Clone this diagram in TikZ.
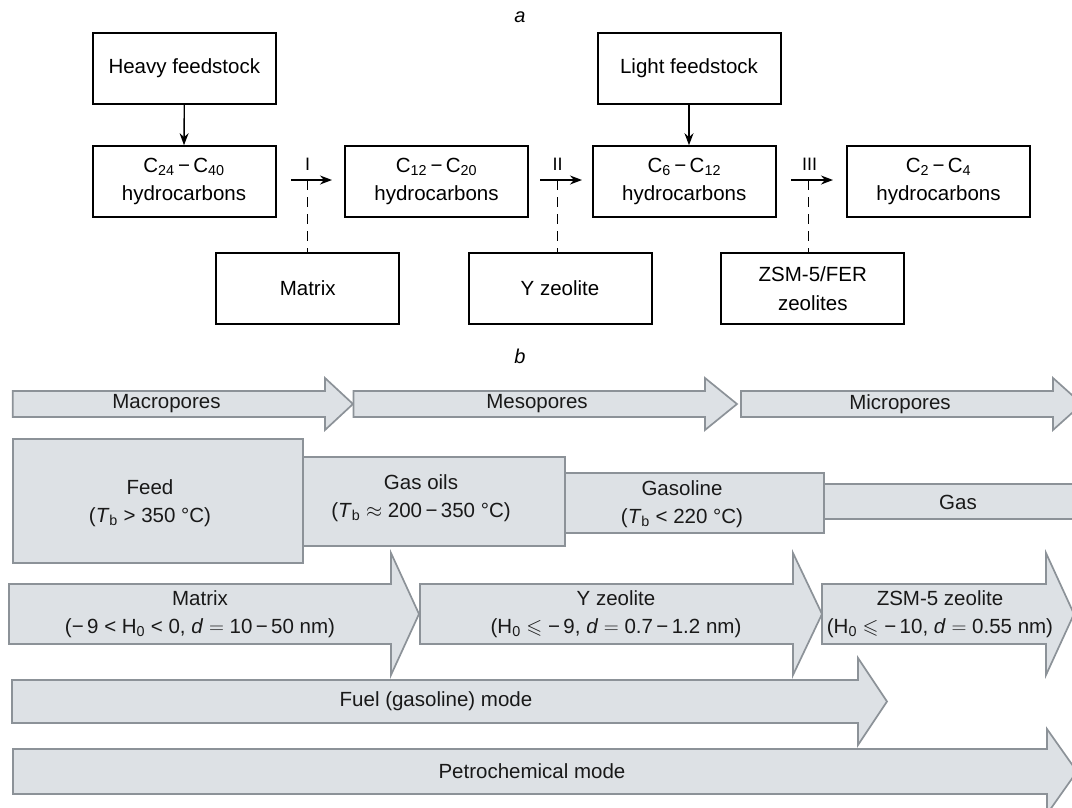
\documentclass[tikz,border=0pt]{standalone}
\usepackage{amssymb}
\usepackage{fontspec}
\setmainfont{Liberation Sans}
\usetikzlibrary{arrows.meta}
\definecolor{bfill}{RGB}{221,225,229}
\definecolor{bdraw}{RGB}{140,146,152}
\definecolor{btext}{RGB}{25,25,25}
\newcommand{\blockarr}[6]{% x0 x1 xt yc bh hh
  \draw[barrow] (#1,#4-#5) -- (#2,#4-#5) -- (#2,#4-#6) -- (#3,#4) -- (#2,#4+#6) -- (#2,#4+#5) -- (#1,#4+#5) -- cycle;}
\begin{document}
\begin{tikzpicture}[x=1pt,y=-1pt,
  font=\fontsize{20.5}{28.5}\selectfont,
  box/.style={draw, line width=2pt, minimum width=183pt, minimum height=71pt, inner sep=0pt, align=center},
  flow/.style={line width=1.4pt, -{Stealth[length=12pt,width=9pt]}},
  dsh/.style={line width=1.4pt, dash pattern=on 10pt off 7pt},
  roman/.style={font=\fontsize{18}{20}\selectfont, inner sep=0pt},
  lbl/.style={font=\fontsize{20}{22}\selectfont\itshape, inner sep=0pt},
  barrow/.style={draw=bdraw, fill=bfill, line width=1.7pt, line join=miter},
  bbox/.style={draw=bdraw, fill=bfill, line width=1.7pt},
  btxt/.style={align=center, text=btext, inner sep=0pt}]
\useasboundingbox (0,0) rectangle (1072,807);
\clip (0,0) rectangle (1072,807);

% ---------- part a ----------
\node[lbl] (la) at (520,17) {a};
\node[box] (hf)  at (184.3,68)   {Heavy feedstock};
\node[box] (lf)  at (689,68)     {Light feedstock};
\node[box] (c24) at (184,181.7)  {C\textsubscript{24}\,−\,C\textsubscript{40}\\hydrocarbons};
\node[box] (c12) at (436.5,181.7){C\textsubscript{12}\,−\,C\textsubscript{20}\\hydrocarbons};
\node[box] (c6)  at (684.3,181.7){C\textsubscript{6}\,−\,C\textsubscript{12}\\hydrocarbons};
\node[box] (c2)  at (938.5,181.7){C\textsubscript{2}\,−\,C\textsubscript{4}\\hydrocarbons};
\node[box] (mat) at (307.7,288.5){Matrix};
\node[box] (yz)  at (560,288.5)  {Y zeolite};
\node[box] (zsm) at (812.8,288.5){ZSM-5/FER\\zeolites};

\draw[flow] (hf.south) -- (c24.north);
\draw[flow] (lf.south) -- (lf.south |- c6.north);

\coordinate (a1s) at (291,180);  \coordinate (a1e) at (332,180);
\coordinate (a2s) at (540,180);  \coordinate (a2e) at (582,180);
\coordinate (a3s) at (791,180);  \coordinate (a3e) at (833,180);
\coordinate (d1) at (307.6,180); \coordinate (d2) at (557.7,180); \coordinate (d3) at (808.6,180);

\draw[dsh] (d1) -- (d1 |- mat.north);
\draw[dsh] (d2) -- (d2 |- yz.north);
\draw[dsh] (d3) -- (d3 |- zsm.north);
\draw[flow] (a1s) -- (a1e);
\draw[flow] (a2s) -- (a2e);
\draw[flow] (a3s) -- (a3e);
\node[roman] (r1) at (307.6,164) {I};
\node[roman] (r2) at (557.7,164) {II};
\node[roman] (r3) at (809.5,164) {III};

% ---------- part b ----------
\node[lbl] (lb) at (520,356) {b};

% row 1
\blockarr{12.7}{325}{353}{404}{13}{26}
\blockarr{353.5}{705}{737}{404}{13}{26}
\blockarr{741}{1053}{1082}{404}{13}{26}
\node[btxt] (macro) at (166.5,404) {Macropores};
\node[btxt] (meso)  at (537,404)   {Mesopores};
\node[btxt] (micro) at (900,404)   {Micropores};

% row 2
\path[bbox] (824,484) rectangle (1085,519);
\path[bbox] (565,473) rectangle (824,533);
\path[bbox] (303,457) rectangle (565,546);
\path[bbox] (13,439) rectangle (303,563);
\node[btxt] (feed)  at (150,503) {Feed\\(\textit{T}\textsubscript{b} > 350 °C)};
\node[btxt] (goil)  at (421,498) {Gas oils\\(\textit{T}\textsubscript{b} $\approx$ 200\,−\,350 °C)};
\node[btxt] (gsln)  at (682,504) {Gasoline\\(\textit{T}\textsubscript{b} < 220 °C)};
\node[btxt] (gas)   at (958,502) {Gas};

% row 3
\blockarr{9}{391}{419}{614}{30}{61}
\blockarr{420}{793}{822}{614}{30}{61}
\blockarr{822}{1046}{1074}{614}{30}{61}
\node[btxt] (cmat) at (200,614) {Matrix\\(−\,9 < H\textsubscript{0} < 0, \textit{d} $=$ 10\,−\,50 nm)};
\node[btxt] (cyz)  at (616,614) {Y zeolite\\(H\textsubscript{0} $\leqslant$ −\,9, \textit{d} $=$ 0.7\,−\,1.2 nm)};
\node[btxt] (czsm) at (940,614) {ZSM-5 zeolite\\(H\textsubscript{0} $\leqslant$ −\,10, \textit{d} $=$ 0.55 nm)};

% row 4, 5
\blockarr{12}{858}{887}{701.5}{21.5}{43.5}
\blockarr{13}{1047}{1077}{771.5}{22.5}{42.5}
\node[btxt] (fuel)  at (436,701) {Fuel (gasoline) mode};
\node[btxt] (petro) at (532,771) {Petrochemical mode};
\end{tikzpicture}
\end{document}
